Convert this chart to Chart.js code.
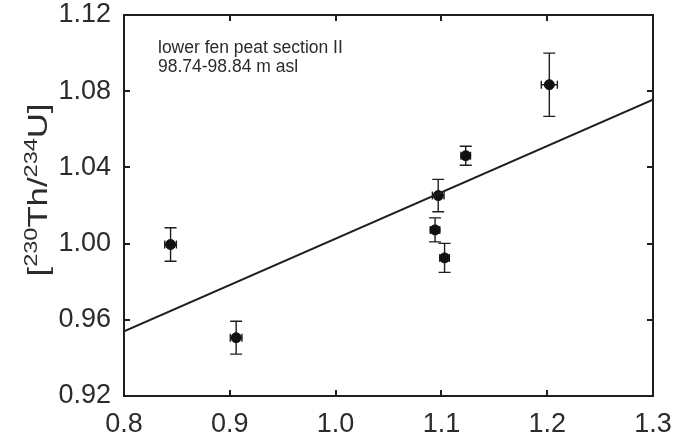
<!DOCTYPE html>
<html>
<head>
<meta charset="utf-8">
<script src="https://cdn.jsdelivr.net/npm/chart.js@4/dist/chart.umd.min.js"></script>
<style>
  html, body { margin: 0; padding: 0; background: #fff; }
  #wrap { width: 675px; height: 445px; }
</style>
</head>
<body>
<div id="wrap"><canvas id="c" width="675" height="445"></canvas></div>
<script>
// ---- data ----
const xVals = [0.844, 0.906, 1.094, 1.097, 1.103, 1.123, 1.202];
const yVals = [0.9995, 0.9506, 1.0072, 1.0252, 0.9925, 1.0461, 1.0834];
const xErr  = [0.0055, 0.0055, 0.0045, 0.0055, 0.0045, 0.0045, 0.0076];
const yErr  = [0.0088, 0.0086, 0.0063, 0.0085, 0.0076, 0.005, 0.0166];
const fitX  = [0.8, 1.3];
const fitY  = [0.9540, 1.0755];
const xTicks = [0.8, 0.9, 1.0, 1.1, 1.2, 1.3];
const yTicks = [0.92, 0.96, 1.00, 1.04, 1.08, 1.12];
const noteLines = ['lower fen peat section II', '98.74-98.84 m asl'];

const INK = '#1e1e1e';
const TXT = '#2b2b2b';
const FONT = '"Liberation Sans", Arial, sans-serif';

const pointData = xVals.map((x, i) => ({ x: x, y: yVals[i] }));
const fitData = fitX.map((x, i) => ({ x: x, y: fitY[i] }));

const framePlugin = {
  id: 'frame',
  beforeDatasetsDraw(chart) {
    const ctx = chart.ctx, xs = chart.scales.x, ys = chart.scales.y;
    ctx.save();
    ctx.strokeStyle = INK;
    ctx.lineWidth = 1.4;
    xVals.forEach((xv, i) => {
      const px = xs.getPixelForValue(xv), py = ys.getPixelForValue(yVals[i]);
      const yt = ys.getPixelForValue(yVals[i] + yErr[i]);
      const yb = ys.getPixelForValue(yVals[i] - yErr[i]);
      const xl = xs.getPixelForValue(xv - xErr[i]);
      const xr = xs.getPixelForValue(xv + xErr[i]);
      ctx.beginPath();
      ctx.moveTo(px, yt); ctx.lineTo(px, yb);
      ctx.moveTo(px - 6, yt); ctx.lineTo(px + 6, yt);
      ctx.moveTo(px - 6, yb); ctx.lineTo(px + 6, yb);
      ctx.moveTo(xl, py); ctx.lineTo(xr, py);
      ctx.moveTo(xl, py - 4); ctx.lineTo(xl, py + 4);
      ctx.moveTo(xr, py - 4); ctx.lineTo(xr, py + 4);
      ctx.stroke();
    });
    ctx.restore();
  },
  afterDraw(chart) {
    const ctx = chart.ctx, a = chart.chartArea, xs = chart.scales.x, ys = chart.scales.y;
    ctx.save();
    ctx.strokeStyle = INK;
    ctx.lineWidth = 2;
    ctx.strokeRect(a.left, a.top, a.right - a.left, a.bottom - a.top);
    ctx.beginPath();
    xTicks.slice(1, -1).forEach(v => {
      const px = Math.round(xs.getPixelForValue(v));
      ctx.moveTo(px, a.bottom); ctx.lineTo(px, a.bottom - 6);
      ctx.moveTo(px, a.top); ctx.lineTo(px, a.top + 6);
    });
    yTicks.slice(1, -1).forEach(v => {
      const py = Math.round(ys.getPixelForValue(v));
      ctx.moveTo(a.left, py); ctx.lineTo(a.left + 6, py);
      ctx.moveTo(a.right, py); ctx.lineTo(a.right - 6, py);
    });
    ctx.stroke();

    // annotation
    ctx.fillStyle = TXT;
    ctx.font = '17.5px ' + FONT;
    ctx.textAlign = 'left';
    ctx.textBaseline = 'alphabetic';
    ctx.fillText(noteLines[0], 158, 53);
    ctx.fillText(noteLines[1], 158, 72);

    // y-axis title with superscripts
    const parts = [
      { t: '[', sup: false }, { t: '230', sup: true }, { t: 'Th/', sup: false },
      { t: '234', sup: true }, { t: 'U]', sup: false }
    ];
    const mainF = '28px ' + FONT, supF = '19px ' + FONT;
    let total = 0;
    parts.forEach(p => { ctx.font = p.sup ? supF : mainF; p.w = ctx.measureText(p.t).width; total += p.w; });
    const targetLen = 173;
    const sx = targetLen / total;
    ctx.translate(47, 190);
    ctx.rotate(-Math.PI / 2);
    ctx.scale(sx, 1);
    let x0 = -total / 2;
    parts.forEach(p => {
      ctx.font = p.sup ? supF : mainF;
      ctx.fillText(p.t, x0, p.sup ? -10 : 0);
      x0 += p.w;
    });
    ctx.restore();
  }
};

new Chart(document.getElementById('c'), {
  type: 'scatter',
  data: {
    datasets: [
      {
        type: 'line',
        data: fitData,
        borderColor: INK,
        borderWidth: 2,
        pointRadius: 0,
        fill: false,
        tension: 0
      },
      {
        data: pointData,
        backgroundColor: '#111',
        borderColor: '#111',
        pointRadius: 5,
        pointHoverRadius: 5,
        showLine: false
      }
    ]
  },
  options: {
    responsive: false,
    devicePixelRatio: 1,
    animation: false,
    layout: { padding: { top: 15, right: 22, left: 0, bottom: 0 } },
    plugins: { legend: { display: false }, tooltip: { enabled: false } },
    scales: {
      x: {
        type: 'linear',
        min: xTicks[0], max: xTicks[xTicks.length - 1],
        afterBuildTicks: s => { s.ticks = xTicks.map(v => ({ value: v })); },
        afterFit: s => { s.height = 49; s.paddingLeft = 0; s.paddingRight = 0; },
        grid: { display: false, drawTicks: false },
        border: { display: false },
        ticks: {
          autoSkip: false, maxRotation: 0, padding: 12,
          color: TXT, font: { family: FONT, size: 27 },
          callback: v => Number(v).toFixed(1)
        }
      },
      y: {
        type: 'linear',
        min: yTicks[0], max: yTicks[yTicks.length - 1],
        afterBuildTicks: s => { s.ticks = yTicks.map(v => ({ value: v })); },
        afterFit: s => { s.width = 124; s.paddingTop = 0; s.paddingBottom = 0; },
        grid: { display: false, drawTicks: false },
        border: { display: false },
        ticks: {
          autoSkip: false, padding: 13,
          color: TXT, font: { family: FONT, size: 27 },
          callback: v => Number(v).toFixed(2)
        }
      }
    }
  },
  plugins: [framePlugin]
});
</script>
</body>
</html>
